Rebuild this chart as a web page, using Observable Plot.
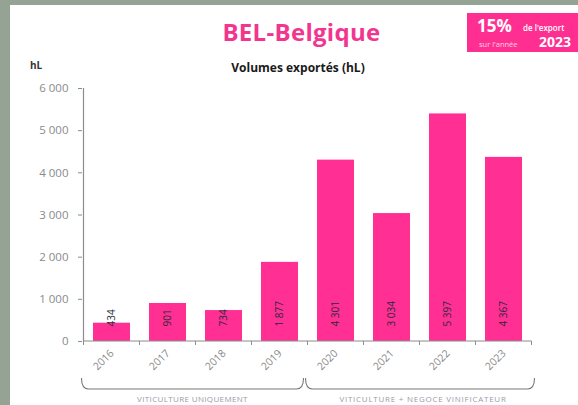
<!DOCTYPE html>
<html>
<head>
<meta charset="utf-8">
<script src="https://cdn.jsdelivr.net/npm/d3@7"></script>
<script src="https://cdn.jsdelivr.net/npm/@observablehq/plot@0.6"></script>
<style>
  html, body { margin: 0; padding: 0; }
  body { width: 578px; height: 405px; background: #94a393; position: relative; overflow: hidden; font-family: "Open Sans", sans-serif; }
  #panel { position: absolute; left: 10px; top: 5px; width: 568px; height: 400px; background: #ffffff; }
  .abs { position: absolute; white-space: nowrap; }
  #title { left: 0; width: 603px; top: 15px; text-align: center; font-size: 24px; font-weight: 700; color: #f2368f; letter-spacing: 0.3px; }
  #subtitle { left: 0; width: 596px; top: 59px; text-align: center; font-size: 12px; font-weight: 700; color: #1a1a1a; }
  #unit { left: 30px; top: 58px; font-size: 10px; font-weight: 700; color: #333; }
  #badge { left: 467px; top: 13px; width: 111px; height: 39px; background: #ff2f92; color: #fff; }
  #badge .pct { position: absolute; left: 10px; top: 1px; font-size: 17px; font-weight: 700; }
  #badge .de { position: absolute; left: 56px; top: 9px; font-size: 8px; font-weight: 600; }
  #badge .sur { position: absolute; left: 12px; top: 26px; font-size: 7.5px; opacity: 0.75; }
  #badge .yr { position: absolute; left: 72px; top: 19px; font-size: 14px; font-weight: 700; }
  #chart { position: absolute; left: 0; top: 80px; }
</style>
</head>
<body>
<div id="panel"></div>
<div class="abs" id="title">BEL-Belgique</div>
<div class="abs" id="subtitle">Volumes exportés (hL)</div>
<div class="abs" id="unit">hL</div>
<div class="abs" id="badge"><span class="pct">15%</span><span class="de">de l'export</span><span class="sur">sur l'année</span><span class="yr">2023</span></div>
<div id="chart"></div>
<script>
const years = ["2016", "2017", "2018", "2019", "2020", "2021", "2022", "2023"];
const volumes = [434, 901, 734, 1877, 4301, 3034, 5397, 4367];
const yTicks = [0, 1000, 2000, 3000, 4000, 5000, 6000];
const groupLabels = ["VITICULTURE UNIQUEMENT", "VITICULTURE + NEGOCE VINIFICATEUR"];
const groupStart = ["2016", "2020"];
const groupEnd = ["2019", "2023"];

const data = years.map((y, i) => ({year: y, value: volumes[i]}));
const fmt = d3.formatLocale({decimal: ",", thousands: " ", grouping: [3], currency: ["", ""]}).format(",");

const axisColor = "#8c8c8c";

function decorations(index, scales, values, dimensions) {
  const x = scales.x, y = scales.y;
  const sx = scales.scales && scales.scales.x;
  const bw = x.bandwidth ? x.bandwidth() : sx.bandwidth;
  const step = x.step ? x.step() : sx.step;
  const y0 = y(0);
  const g = d3.create("svg:g");
  const left = x(years[0]) + bw / 2 - step / 2;
  const right = x(years[years.length - 1]) + bw / 2 + step / 2;
  g.append("line").attr("x1", left).attr("x2", left).attr("y1", y(6000)).attr("y2", y0)
    .attr("stroke", axisColor).attr("stroke-width", 1.2);
  g.append("line").attr("x1", left).attr("x2", right).attr("y1", y0).attr("y2", y0)
    .attr("stroke", axisColor).attr("stroke-width", 1.2);
  for (let i = 0; i <= years.length; i++) {
    const bx = left + i * step;
    g.append("line").attr("x1", bx).attr("x2", bx).attr("y1", y0).attr("y2", y0 + 4)
      .attr("stroke", axisColor).attr("stroke-width", 1);
  }
  const by = dimensions.height - 16;
  const spacing = [0.35, 0.75];
  groupLabels.forEach((lab, i) => {
    const a = x(groupStart[i]) + bw / 2 - step / 2 - 2;
    const b = x(groupEnd[i]) + bw / 2 + step / 2 + (i === 0 ? -4 : 3);
    g.append("path")
      .attr("d", `M${a},${by - 11} Q${a},${by} ${a + 7},${by} H${b - 7} Q${b},${by} ${b},${by - 11}`)
      .attr("fill", "none").attr("stroke", "#777").attr("stroke-width", 1.1);
    g.append("text").attr("x", (a + b) / 2 + (i === 0 ? 0 : 3)).attr("y", by + 13)
      .attr("text-anchor", "middle").attr("font-size", 8).attr("letter-spacing", spacing[i])
      .attr("fill", "#9a9aa8").attr("font-family", "Open Sans, sans-serif").text(lab);
  });
  return g.node();
}

const chart = Plot.plot({
  width: 578,
  height: 325,
  marginTop: 8,
  marginBottom: 64,
  marginLeft: 82,
  marginRight: 45,
  style: {fontFamily: "Open Sans, sans-serif", background: "transparent"},
  x: {domain: years, paddingInner: 0.34, paddingOuter: 0.17, align: 0.5, label: null},
  y: {domain: [0, 6000], label: null},
  marks: [
    Plot.barY(data, {x: "year", y: "value", fill: "#ff2f94"}),
    Plot.text(data, {x: "year", y: 0, text: d => fmt(d.value), rotate: -90, textAnchor: "start", dy: -15, fontSize: 10, fill: "#2b2b3a"}),
    Plot.axisY({ticks: yTicks, tickFormat: fmt, tickSize: 4, tickPadding: 10, fontSize: 11.5, color: "#8a8a8a", stroke: axisColor, label: null}),
    Plot.axisX({tickSize: 0, tickPadding: 10, tickRotate: -45, fontSize: 10.5, color: "#8a8a8a", label: null}),
    decorations
  ]
});
document.getElementById("chart").appendChild(chart);
</script>
</body>
</html>
